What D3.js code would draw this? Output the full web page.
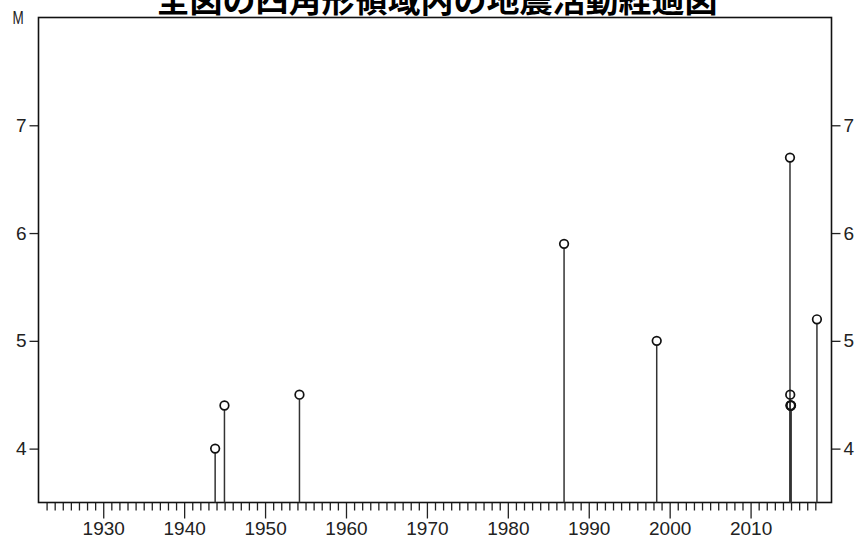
<!DOCTYPE html>
<html>
<head>
<meta charset="utf-8">
<script src="https://cdn.jsdelivr.net/npm/d3@7"></script>
<style>
  body { margin: 0; background: #fff; }
  svg { display: block; }
</style>
</head>
<body>
<div id="chart"></div>
<script>
// events: decimal year and magnitude
const years = [1943.83, 1944.98, 1954.25, 1986.95, 1998.4, 2014.87, 2014.9, 2014.93, 2014.96, 2015.0, 2018.2];
const mags  = [4.0,     4.4,     4.5,     5.9,     5.0,    6.7,     4.5,    4.4,     4.4,     4.4,    5.2];
const yTicks = [4, 5, 6, 7];
const xLabels = [1930, 1940, 1950, 1960, 1970, 1980, 1990, 2000, 2010];
const title = "全図の四角形領域内の地震活動経過図";

const W = 855, H = 545;
const m = { left: 38.5, right: 23.5, top: 17.5, bottom: 42.5 };

const svg = d3.select("#chart").append("svg")
  .attr("width", W).attr("height", H);

const x = d3.scaleLinear().domain([1922, 2020]).range([m.left, W - m.right]);
const y = d3.scaleLinear().domain([3.5, 8]).range([H - m.bottom, m.top]);

// title sits partly above the top edge, as in the source image
svg.append("text")
  .attr("x", 437).attr("y", 12)
  .attr("text-anchor", "middle")
  .attr("font-family", "'Noto Sans CJK JP', sans-serif")
  .attr("font-weight", "bold")
  .attr("font-size", "33px")
  .attr("fill", "#000")
  .text(title);

const font = "'Liberation Sans', Arial, sans-serif";

// bottom axis: minor yearly ticks + labelled decades
const minor = d3.range(1923, 2019).filter(v => v % 10 !== 0);
svg.append("g")
  .attr("transform", `translate(0,${H - m.bottom})`)
  .call(d3.axisBottom(x).tickValues(minor).tickSize(8).tickFormat(""))
  .call(g => g.select(".domain").remove())
  .call(g => g.selectAll("line").attr("stroke", "#222").attr("stroke-width", 1.3));

svg.append("g")
  .attr("transform", `translate(0,${H - m.bottom})`)
  .call(d3.axisBottom(x).tickValues(xLabels).tickSize(16).tickPadding(3).tickFormat(d3.format("d")))
  .call(g => g.select(".domain").remove())
  .call(g => g.selectAll("line").attr("stroke", "#222").attr("stroke-width", 1.3))
  .call(g => g.selectAll("text").attr("font-family", font).attr("font-size", "19px").attr("fill", "#222"));

// left and right magnitude axes
svg.append("g")
  .attr("transform", `translate(${m.left},0)`)
  .call(d3.axisLeft(y).tickValues(yTicks).tickSize(9).tickPadding(3).tickFormat(d3.format("d")))
  .call(g => g.select(".domain").remove())
  .call(g => g.selectAll("line").attr("stroke", "#222").attr("stroke-width", 1.3))
  .call(g => g.selectAll("text").attr("font-family", font).attr("font-size", "19px").attr("fill", "#222"));

svg.append("g")
  .attr("transform", `translate(${W - m.right},0)`)
  .call(d3.axisRight(y).tickValues(yTicks).tickSize(9).tickPadding(3).tickFormat(d3.format("d")))
  .call(g => g.select(".domain").remove())
  .call(g => g.selectAll("line").attr("stroke", "#222").attr("stroke-width", 1.3))
  .call(g => g.selectAll("text").attr("font-family", font).attr("font-size", "19px").attr("fill", "#222"));

svg.append("text")
  .attr("x", 18).attr("y", y(8)).attr("dy", "0.35em")
  .attr("text-anchor", "middle")
  .attr("font-family", font).attr("font-size", "18px").attr("fill", "#222")
  .attr("transform", `translate(18,${y(8)}) scale(0.75,1) translate(-18,${-y(8)})`)
  .text("M");

// frame
svg.append("rect")
  .attr("x", m.left).attr("y", m.top)
  .attr("width", W - m.left - m.right).attr("height", H - m.top - m.bottom)
  .attr("fill", "none").attr("stroke", "#111").attr("stroke-width", 1.6);

const events = years.map((yr, i) => ({ yr, mag: mags[i] }));

svg.append("g").selectAll("line")
  .data(events)
  .join("line")
  .attr("x1", d => x(d.yr)).attr("x2", d => x(d.yr))
  .attr("y1", y(3.5)).attr("y2", d => y(d.mag) + 4.5)
  .attr("stroke", "#333").attr("stroke-width", 1.5);

svg.append("g").selectAll("circle")
  .data(events)
  .join("circle")
  .attr("cx", d => x(d.yr)).attr("cy", d => y(d.mag))
  .attr("r", 4.3)
  .attr("fill", "none").attr("stroke", "#111").attr("stroke-width", 1.7);
</script>
</body>
</html>
